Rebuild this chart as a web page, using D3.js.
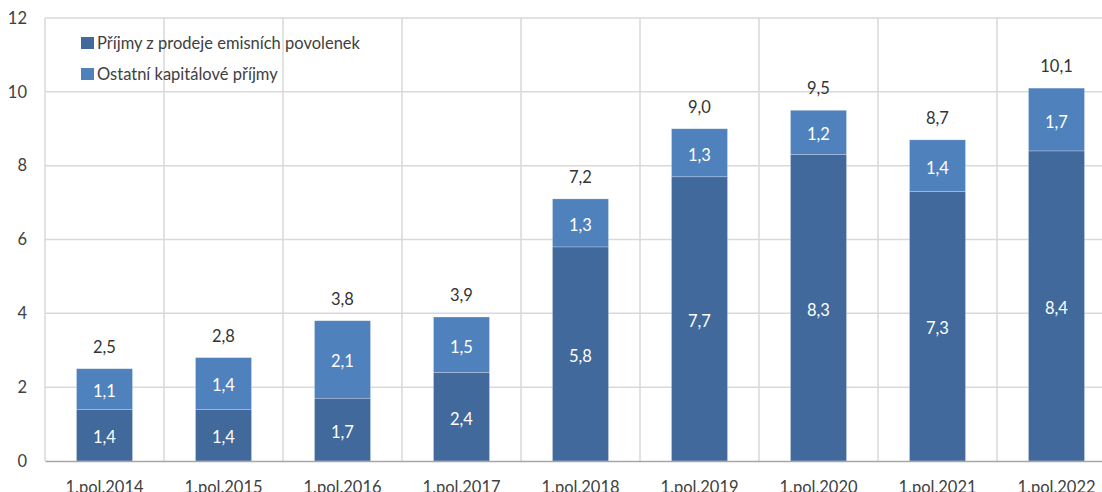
<!DOCTYPE html>
<html>
<head>
<meta charset="utf-8">
<script src="https://cdn.jsdelivr.net/npm/d3@7"></script>
<style>
  body { margin: 0; background: #fff; }
  text { font-family: Lato, "Open Sans", sans-serif; }
</style>
</head>
<body>
<div id="chart"></div>
<script>
const categories = ['1.pol.2014','1.pol.2015','1.pol.2016','1.pol.2017','1.pol.2018','1.pol.2019','1.pol.2020','1.pol.2021','1.pol.2022']
const emisni = [1.4, 1.4, 1.7, 2.4, 5.8, 7.7, 8.3, 7.3, 8.4]
const ostatni = [1.1, 1.4, 2.1, 1.5, 1.3, 1.3, 1.2, 1.4, 1.7]
const totals = [2.5, 2.8, 3.8, 3.9, 7.2, 9.0, 9.5, 8.7, 10.1]
const seriesNames = ['Příjmy z prodeje emisních povolenek', 'Ostatní kapitálové příjmy']
const yTicks = [0, 2, 4, 6, 8, 10, 12]

const colors = ['#41699b', '#4f81bd']
const fmt = v => d3.format('.1f')(v).replace('.', ',')

const W = 1102, H = 492
const margin = {top: 18, left: 45}
const plotW = 9 * 119, plotH = 443

const svg = d3.select('#chart').append('svg')
  .attr('width', W).attr('height', H)

const g = svg.append('g')
  .attr('transform', 'translate(' + margin.left + ',' + margin.top + ')')

const x = d3.scaleBand().domain(categories).range([0, plotW]).paddingInner(0).paddingOuter(0)
const y = d3.scaleLinear().domain([0, 12]).range([plotH, 0])

// gridlines
g.selectAll('.hgrid').data(yTicks.filter(d => d > 0)).enter().append('line')
  .attr('x1', 0).attr('x2', plotW)
  .attr('y1', d => y(d)).attr('y2', d => y(d))
  .attr('stroke', '#d9d9d9').attr('stroke-width', 1.5)

g.selectAll('.vgrid').data(categories).enter().append('line')
  .attr('x1', d => x(d) + x.bandwidth()).attr('x2', d => x(d) + x.bandwidth())
  .attr('y1', 0).attr('y2', plotH)
  .attr('stroke', '#d9d9d9').attr('stroke-width', 1.5)

g.append('line')
  .attr('x1', 0).attr('x2', 0).attr('y1', 0).attr('y2', plotH)
  .attr('stroke', '#d9d9d9').attr('stroke-width', 1.5)

// stacked bars
const rows = categories.map((c, i) => ({cat: c, a: emisni[i], b: ostatni[i], total: totals[i]}))
const stack = d3.stack().keys(['a', 'b'])(rows)
const barW = 56
const bx = d => x(d.data.cat) + (x.bandwidth() - barW) / 2

stack.forEach((layer, li) => {
  g.selectAll('.bar' + li).data(layer).enter().append('rect')
    .attr('x', bx)
    .attr('width', barW)
    .attr('y', d => y(d[1]))
    .attr('height', d => y(d[0]) - y(d[1]))
    .attr('fill', colors[li])
    .attr('stroke', 'rgba(255,255,255,0.3)')
    .attr('stroke-width', 0.75)

  g.selectAll('.lbl' + li).data(layer).enter().append('text')
    .attr('x', d => x(d.data.cat) + x.bandwidth() / 2)
    .attr('y', d => (y(d[0]) + y(d[1])) / 2 + 8)
    .attr('text-anchor', 'middle')
    .attr('fill', '#fff')
    .style('font-size', '16.5px')
    .text(d => fmt(d[1] - d[0]))
})

// totals
g.selectAll('.tot').data(rows).enter().append('text')
  .attr('x', d => x(d.cat) + x.bandwidth() / 2)
  .attr('y', d => y(d.a + d.b) - 16)
  .attr('text-anchor', 'middle')
  .attr('fill', '#333')
  .style('font-size', '16.5px')
  .text(d => fmt(d.total))

// axes
const yAxis = d3.axisLeft(y).tickValues(yTicks).tickSize(0).tickPadding(18)
g.append('g').call(yAxis)
  .call(s => s.select('.domain').remove())
  .selectAll('text')
  .attr('fill', '#404040')
  .style('font-size', '16.5px')

const xAxis = d3.axisBottom(x).tickSize(0).tickPadding(20)
g.append('g').attr('transform', 'translate(0,' + plotH + ')').call(xAxis)
  .call(s => s.select('.domain').attr('stroke', '#a6a6a6').attr('stroke-width', 1.5))
  .selectAll('text')
  .attr('fill', '#404040')
  .style('font-size', '16.5px')

// legend
const legend = svg.append('g').attr('transform', 'translate(81,32)')
seriesNames.forEach((name, i) => {
  const row = legend.append('g').attr('transform', 'translate(0,' + (i * 31) + ')')
  row.append('rect').attr('width', 13).attr('height', 12).attr('y', 5).attr('fill', colors[i])
  row.append('text').attr('x', 16).attr('y', 17)
    .attr('fill', '#404040')
    .style('font-size', '16.5px')
    .text(name)
})
</script>
</body>
</html>
